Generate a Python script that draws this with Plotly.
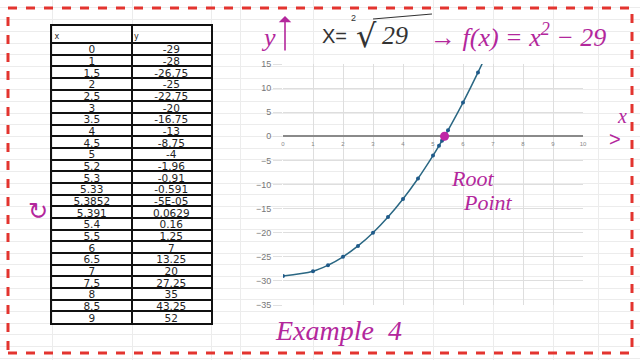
import plotly.graph_objects as go

# ---- data ----
x_vals = [0, 1, 1.5, 2, 2.5, 3, 3.5, 4, 4.5, 5, 5.2, 5.3, 5.33, 5.3852, 5.391,
          5.4, 5.5, 6, 6.5, 7, 7.5, 8, 8.5, 9]
y_vals = [-29, -28, -26.75, -25, -22.75, -20, -16.75, -13, -8.75, -4, -1.96, -0.91,
          -0.591, -0.00005, 0.0629, 0.16, 1.25, 7, 13.25, 20, 27.25, 35, 43.25, 52]
x_text = ["0", "1", "1.5", "2", "2.5", "3", "3.5", "4", "4.5", "5", "5.2", "5.3",
          "5.33", "5.3852", "5.391", "5.4", "5.5", "6", "6.5", "7", "7.5", "8", "8.5", "9"]
y_text = ["-29", "-28", "-26.75", "-25", "-22.75", "-20", "-16.75", "-13", "-8.75", "-4",
          "-1.96", "-0.91", "-0.591", "-5E-05", "0.0629", "0.16", "1.25", "7", "13.25",
          "20", "27.25", "35", "43.25", "52"]
headers = ["x", "y"]
root_x = [5.3852]
root_y = [-0.00005]
x_ticks = list(range(0, 11))
y_ticks = [15, 10, 5, 0, -5, -10, -15, -20, -25, -30, -35]

W, H = 640, 360
MAG = "#b3279c"
INK = "#1e1e1e"

def px(v):
    return v / W

def py(v):
    return 1 - v / H

# table geometry (pixels)
T_TOP, HEAD_H, ROW_H = 26, 17, 11.67
n_rows = len(x_text)
T_BOT = T_TOP + HEAD_H + n_rows * ROW_H
row_bounds = [T_TOP, T_TOP + HEAD_H] + [T_TOP + HEAD_H + (i + 1) * ROW_H for i in range(n_rows)]
row_mid = [T_TOP + HEAD_H + (i + 0.5) * ROW_H + 1.8 for i in range(n_rows)]

fig = go.Figure()

# background spreadsheet grid (first subplot, drawn underneath everything)
fig.add_trace(go.Scatter(x=[0], y=[0], xaxis="x", yaxis="y", mode="markers",
                         marker=dict(opacity=0), hoverinfo="skip", showlegend=False))

# curve (second subplot)
fig.add_trace(go.Scatter(x=x_vals, y=y_vals, xaxis="x2", yaxis="y2", mode="lines+markers",
                         line=dict(color="#2a6783", width=1.5, shape="spline"),
                         marker=dict(color="#1f5a8a", size=4),
                         hoverinfo="skip", showlegend=False))
fig.add_trace(go.Scatter(x=root_x, y=root_y, xaxis="x2", yaxis="y2", mode="markers",
                         marker=dict(color="#c026a6", size=9),
                         hoverinfo="skip", showlegend=False))

# table drawn on its own axes: grid lines = cell borders, text marks = values
tf = dict(family="DejaVu Sans", size=10.5, color=INK)
fig.add_trace(go.Scatter(x=[0.5] * n_rows, y=row_mid, xaxis="x3", yaxis="y3",
                         mode="text", text=x_text, textposition="middle center",
                         textfont=tf, hoverinfo="skip", showlegend=False, cliponaxis=False))
fig.add_trace(go.Scatter(x=[1.5] * n_rows, y=row_mid, xaxis="x3", yaxis="y3",
                         mode="text", text=y_text, textposition="middle center",
                         textfont=tf, hoverinfo="skip", showlegend=False, cliponaxis=False))
fig.add_trace(go.Scatter(x=[0.03, 1.03], y=[T_TOP + HEAD_H * 0.65] * 2, xaxis="x3", yaxis="y3",
                         mode="text", text=headers, textposition="middle right",
                         textfont=dict(family="DejaVu Sans", size=8, color=INK),
                         hoverinfo="skip", showlegend=False, cliponaxis=False))

fig.update_layout(
    template="none",
    width=W, height=H, margin=dict(l=0, r=0, t=0, b=0, pad=0),
    paper_bgcolor="white", plot_bgcolor="rgba(0,0,0,0)",
    xaxis=dict(domain=[0, 1], range=[0, W], showticklabels=False, zeroline=False,
               tickvals=[52, 132, 211, 240, 313, 433, 493, 553, 598], ticks="",
               showgrid=True, gridcolor="#ececec", anchor="y", showline=False),
    yaxis=dict(domain=[0, 1], range=[H, 0], showticklabels=False, zeroline=False,
               tick0=T_TOP + HEAD_H, dtick=ROW_H, ticks="", showgrid=True,
               gridcolor="#ececec", anchor="x", showline=False),
    xaxis2=dict(domain=[px(283), px(583)], range=[0, 10], tickvals=x_ticks,
                showgrid=True, gridcolor="#dedede", gridwidth=1, zeroline=False,
                anchor="free", position=py(139), ticks="", showline=False,
                tickfont=dict(family="Liberation Sans", size=6, color="#888")),
    yaxis2=dict(domain=[py(305), py(64)], range=[-35, 15], tickvals=y_ticks,
                showgrid=True, gridcolor="#dedede", gridwidth=1, anchor="x2",
                zeroline=True, zerolinecolor="#8a8a8a", zerolinewidth=1.5,
                ticks="outside", ticklen=9, tickcolor="#e0e0e0", showline=False,
                tickfont=dict(family="Liberation Sans", size=9, color="#777")),
    xaxis3=dict(domain=[px(52), px(211)], range=[0, 2], tickvals=[0, 1, 2],
                showticklabels=False, ticks="", zeroline=False, showgrid=True,
                gridcolor="#111", gridwidth=2, anchor="y3",
                showline=True, mirror=True, linecolor="#111", linewidth=2),
    yaxis3=dict(domain=[py(T_BOT), py(T_TOP)], range=[T_BOT, T_TOP], tickvals=row_bounds,
                showticklabels=False, ticks="", zeroline=False, showgrid=True,
                gridcolor="#111", gridwidth=2, anchor="x3",
                showline=True, mirror=True, linecolor="#111", linewidth=2),
)

# red dashed frame
fig.add_shape(type="rect", xref="paper", yref="paper",
              x0=px(8), x1=px(632), y0=py(353), y1=py(8),
              line=dict(color="#e3342f", width=3, dash="dash"))

hand = dict(family="Liberation Serif", size=22, color=MAG, style="italic")

def ann(x, y, text, font, **kw):
    fig.add_annotation(x=px(x), y=py(y), xref="paper", yref="paper", text=text,
                       showarrow=False, font=font, xanchor="center", yanchor="middle", **kw)

# y with arrow
ann(268, 38, "y", dict(family="Liberation Serif", size=26, color=MAG, style="italic"))
fig.add_annotation(x=px(285), y=py(16), ax=0, ay=36, xref="paper", yref="paper",
                   axref="pixel", ayref="pixel", text="", showarrow=True,
                   arrowhead=1, arrowsize=1.3, arrowwidth=1.6, arrowcolor=MAG)

# X = sqrt 29
ann(334, 36, "X=", dict(family="Liberation Sans", size=20, color="#333"))
ann(353, 18, "2", dict(family="Liberation Sans", size=9, color="#333"))
ann(366, 36, "√", dict(family="DejaVu Sans", size=32, color="#333"))
ann(395, 36, "29", dict(family="Liberation Serif", size=26, color="#333", style="italic"))
fig.add_shape(type="line", xref="paper", yref="paper", x0=px(373), x1=px(432),
              y0=py(19), y1=py(14), line=dict(color="#333", width=1.2))

# -> f(x) = x^2 - 29
ann(518, 36, "→ f(x) = x<sup>2</sup> − 29",
    dict(family="Liberation Serif", size=26, color=MAG, style="italic"))

# x axis annotation
ann(622, 116, "x", dict(family="Liberation Serif", size=20, color=MAG, style="italic"))
ann(615, 139, ">", dict(family="Liberation Sans", size=20, color=MAG))

# Root Point
ann(472, 178, "Root", hand)
ann(488, 202, "Point", hand)

# Example 4
ann(338, 330, "Example  4", dict(family="Liberation Serif", size=28, color=MAG, style="italic"))

# curly arrow near table
ann(38, 211, "↻", dict(family="DejaVu Sans", size=24, color=MAG))

fig.write_html("out.html", config={"displayModeBar": False},
               post_script="document.body.style.margin='0';document.body.style.overflow='hidden';")
